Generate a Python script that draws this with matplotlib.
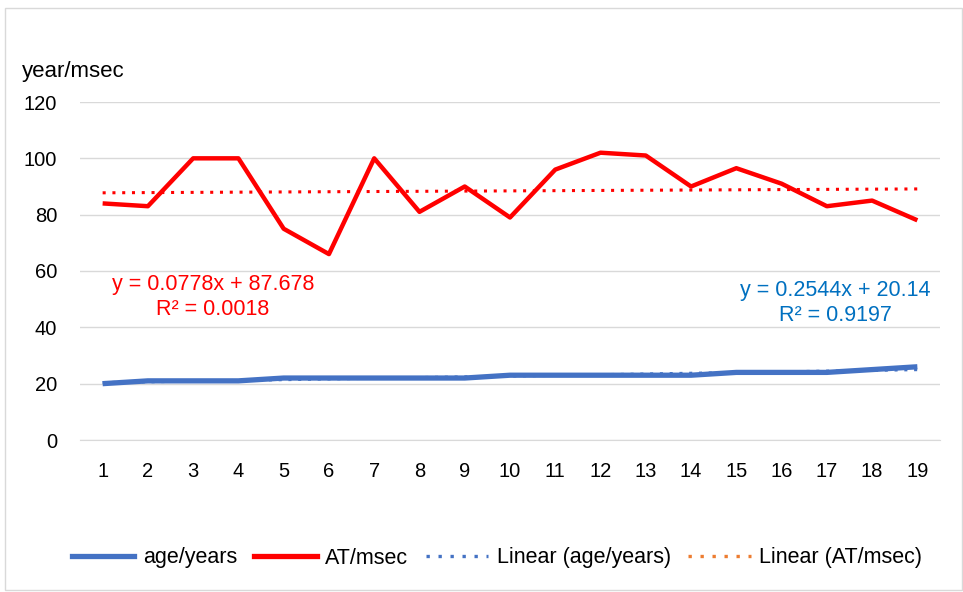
import numpy as np
import matplotlib
matplotlib.use("Agg")
import matplotlib.pyplot as plt
from matplotlib.lines import Line2D
from matplotlib.patches import Rectangle

plt.rcParams['font.family'] = ['Liberation Sans', 'DejaVu Sans']

categories = list(range(1, 20))
age_years = [20, 21, 21, 21, 22, 22, 22, 22, 22, 23, 23, 23, 23, 23, 24, 24, 24, 25, 26]
at_msec = [84, 83, 100, 100, 75, 66, 100, 81, 90, 79, 96, 102, 101, 90, 96.5, 91, 83, 85, 78]
y_ticks = [0, 20, 40, 60, 80, 100, 120]
eq_age = "y = 0.2544x + 20.14\nR² = 0.9197"
eq_at = "y = 0.0778x + 87.678\nR² = 0.0018"

blue = '#4472C4'
red = '#FF0000'
orange = '#ED7D31'

fig = plt.figure(figsize=(9.63, 5.92), dpi=100)
fig.patches.append(Rectangle((5/963, 2/592), 957/963, 582/592, transform=fig.transFigure,
                             fill=False, edgecolor='#D9D9D9', linewidth=1.0))
ax = fig.add_axes([80/963, 1 - 440/592, 860/963, 338/592])

x = np.array(categories)
pa = np.polyfit(x, age_years, 1)
pr = np.polyfit(x, at_msec, 1)
dots = (0, (1, 2.2))
ax.plot(x, np.polyval(pa, x), linestyle=dots, color=blue, linewidth=2.2, zorder=2)
ax.plot(x, np.polyval(pr, x), linestyle=dots, color=red, linewidth=2.2, zorder=2)

ax.plot(x, age_years, color=blue, linewidth=3.8, zorder=3, solid_capstyle='butt')
ax.plot(x, at_msec, color=red, linewidth=3.2, zorder=4, solid_capstyle='butt')

ax.set_xlim(0.5, 19.5)
ax.set_ylim(0, 120)
ax.set_yticks(y_ticks)
ax.set_xticks(categories)
ax.yaxis.grid(True, color='#D9D9D9', linewidth=1.0)
ax.set_axisbelow(True)
for s in ['top', 'right', 'left']:
    ax.spines[s].set_visible(False)
ax.spines['bottom'].set_color('#D9D9D9')
ax.tick_params(axis='both', length=0, labelsize=14.5, labelcolor='#000000')
ax.tick_params(axis='y', pad=16.5)
ax.tick_params(axis='x', pad=16)

fig.text(22/963, 1 - 71/592, 'year/msec', fontsize=16, ha='left', va='center')

ax.text(3.44, 50.6, eq_at, color=red, fontsize=15.5, ha='center', va='center', linespacing=1.25)
ax.text(17.18, 48.8, eq_age, color='#0070C0', fontsize=15.5, ha='center', va='center', linespacing=1.25)

ldots = (0, (1, 2.6))
handles = [
    Line2D([], [], color=blue, linewidth=3.8),
    Line2D([], [], color=red, linewidth=3.8),
    Line2D([], [], color=blue, linewidth=2.4, linestyle=ldots),
    Line2D([], [], color=orange, linewidth=2.4, linestyle=ldots),
]
labels = ['age/years', 'AT/msec', 'Linear (age/years)', 'Linear (AT/msec)']
fig.legend(handles, labels, loc='center', bbox_to_anchor=(497/963, 1 - 558/592), ncol=4,
           frameon=False, fontsize=15.5, handlelength=2.9, handletextpad=0.4, columnspacing=0.8)

fig.savefig('out.png', dpi=100)
